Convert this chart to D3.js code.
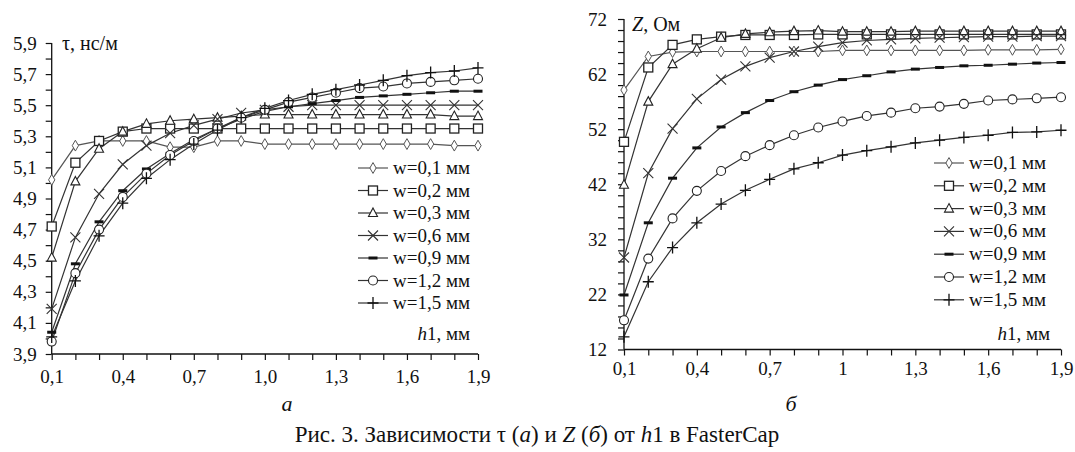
<!DOCTYPE html>
<html>
<head>
<meta charset="utf-8">
<script src="https://cdn.jsdelivr.net/npm/d3@7/dist/d3.min.js"></script>
<style>
  html, body { margin: 0; padding: 0; background: #fff; }
  svg { display: block; }
  svg text { font-family: "Liberation Serif", "Times New Roman", Times, "DejaVu Serif", serif !important; fill: #111; }
</style>
</head>
<body>
<svg id="fig" width="1075" height="452"></svg>
<script>
// h1, mm
const h1 = [0.1, 0.2, 0.3, 0.4, 0.5, 0.6, 0.7, 0.8, 0.9, 1.0, 1.1, 1.2, 1.3, 1.4, 1.5, 1.6, 1.7, 1.8, 1.9];

const seriesNames = ["w=0,1 мм", "w=0,2 мм", "w=0,3 мм", "w=0,6 мм", "w=0,9 мм", "w=1,2 мм", "w=1,5 мм"];
const markerTypes = ["diamond", "square", "triangle", "cross", "dash", "circle", "plus"];

// τ, ns/m
const tauW01 = [5.02, 5.24, 5.27, 5.27, 5.27, 5.23, 5.23, 5.27, 5.27, 5.25, 5.25, 5.25, 5.25, 5.25, 5.25, 5.25, 5.25, 5.24, 5.24];
const tauW02 = [4.72, 5.13, 5.27, 5.33, 5.35, 5.35, 5.35, 5.35, 5.35, 5.35, 5.35, 5.35, 5.35, 5.35, 5.35, 5.35, 5.35, 5.35, 5.35];
const tauW03 = [4.52, 5.01, 5.22, 5.33, 5.38, 5.40, 5.41, 5.42, 5.43, 5.44, 5.44, 5.44, 5.44, 5.44, 5.44, 5.44, 5.44, 5.43, 5.43];
const tauW06 = [4.19, 4.65, 4.93, 5.12, 5.24, 5.32, 5.37, 5.41, 5.45, 5.47, 5.49, 5.50, 5.50, 5.50, 5.50, 5.50, 5.50, 5.50, 5.50];
const tauW09 = [4.04, 4.48, 4.75, 4.95, 5.09, 5.19, 5.28, 5.35, 5.41, 5.46, 5.49, 5.51, 5.53, 5.55, 5.56, 5.57, 5.58, 5.59, 5.59];
const tauW12 = [3.98, 4.42, 4.70, 4.91, 5.06, 5.18, 5.27, 5.35, 5.42, 5.47, 5.52, 5.55, 5.58, 5.61, 5.62, 5.64, 5.65, 5.66, 5.67];
const tauW15 = [4.01, 4.37, 4.66, 4.87, 5.03, 5.15, 5.25, 5.34, 5.42, 5.48, 5.53, 5.57, 5.60, 5.63, 5.66, 5.69, 5.71, 5.72, 5.74];

// Z, Ohm
const zW01 = [59.1, 65.2, 66.0, 66.1, 66.1, 66.1, 66.1, 66.1, 66.1, 66.3, 66.3, 66.3, 66.3, 66.3, 66.3, 66.4, 66.4, 66.4, 66.5];
const zW02 = [49.7, 63.2, 67.3, 68.3, 68.8, 69.1, 69.1, 69.1, 69.2, 69.2, 69.2, 69.2, 69.2, 69.2, 69.2, 69.2, 69.2, 69.2, 69.2];
const zW03 = [41.9, 57.0, 63.8, 66.6, 68.6, 69.3, 69.6, 69.8, 69.9, 69.7, 69.7, 69.7, 69.8, 69.8, 69.8, 69.8, 69.8, 69.8, 69.8];
const zW06 = [28.7, 44.0, 52.1, 57.5, 61.0, 63.4, 65.0, 66.1, 67.0, 67.7, 68.1, 68.3, 68.5, 68.6, 68.7, 68.8, 68.8, 68.9, 68.9];
const zW09 = [21.9, 35.0, 43.1, 48.6, 52.4, 55.0, 57.2, 58.8, 60.0, 61.0, 61.7, 62.4, 62.9, 63.2, 63.5, 63.6, 63.8, 64.0, 64.1];
const zW12 = [17.3, 28.5, 35.8, 40.8, 44.4, 47.1, 49.1, 50.9, 52.3, 53.4, 54.4, 55.0, 55.8, 56.1, 56.6, 57.2, 57.4, 57.6, 57.8];
const zW15 = [14.3, 24.3, 30.5, 35.0, 38.4, 40.9, 42.9, 44.8, 45.9, 47.3, 48.1, 48.8, 49.5, 50.0, 50.5, 50.9, 51.4, 51.5, 51.8];

// axis ticks
const xTickValues = [0.1, 0.2, 0.3, 0.4, 0.5, 0.6, 0.7, 0.8, 0.9, 1.0, 1.1, 1.2, 1.3, 1.4, 1.5, 1.6, 1.7, 1.8, 1.9];
const xLabeledA = ["0,1", "0,4", "0,7", "1,0", "1,3", "1,6", "1,9"];
const xLabeledB = ["0,1", "0,4", "0,7", "1", "1,3", "1,6", "1,9"];
const tauTickValues = [3.9, 4.0, 4.1, 4.2, 4.3, 4.4, 4.5, 4.6, 4.7, 4.8, 4.9, 5.0, 5.1, 5.2, 5.3, 5.4, 5.5, 5.6, 5.7, 5.8, 5.9];
const tauLabels = ["3,9", "4,1", "4,3", "4,5", "4,7", "4,9", "5,1", "5,3", "5,5", "5,7", "5,9"];
const zTickValues = [12, 14, 16, 18, 20, 22, 24, 26, 28, 30, 32, 34, 36, 38, 40, 42, 44, 46, 48, 50, 52, 54, 56, 58, 60, 62, 64, 66, 68, 70, 72];
const zLabels = ["12", "22", "32", "42", "52", "62", "72"];

const tauSeries = [tauW01, tauW02, tauW03, tauW06, tauW09, tauW12, tauW15];
const zSeries = [zW01, zW02, zW03, zW06, zW09, zW12, zW15];

const svg = d3.select("#fig");

function drawMarker(g, type, x, y) {
  const stroke = "#222";
  switch (type) {
    case "diamond":
      g.append("path").attr("d", d3.symbol(d3.symbolDiamond, 34)())
        .attr("transform", `translate(${x},${y})`)
        .attr("fill", "#fff").attr("stroke", "#555").attr("stroke-width", 1);
      break;
    case "square":
      g.append("rect").attr("x", x - 4.5).attr("y", y - 4.5).attr("width", 9).attr("height", 9)
        .attr("fill", "#fff").attr("stroke", stroke).attr("stroke-width", 1.3);
      break;
    case "triangle":
      g.append("path").attr("d", `M${x},${y - 5}L${x + 4.5},${y + 3.5}L${x - 4.5},${y + 3.5}Z`)
        .attr("fill", "#fff").attr("stroke", stroke).attr("stroke-width", 1.1);
      break;
    case "cross":
      g.append("path").attr("d", `M${x - 5},${y - 5}L${x + 5},${y + 5}M${x - 5},${y + 5}L${x + 5},${y - 5}`)
        .attr("fill", "none").attr("stroke", "#333").attr("stroke-width", 1.1);
      break;
    case "dash":
      g.append("rect").attr("x", x - 4.5).attr("y", y - 1.5).attr("width", 9).attr("height", 3)
        .attr("fill", "#111");
      break;
    case "circle":
      g.append("circle").attr("cx", x).attr("cy", y).attr("r", 4.5)
        .attr("fill", "#fff").attr("stroke", stroke).attr("stroke-width", 1.1);
      break;
    case "plus":
      g.append("path").attr("d", `M${x - 5.5},${y}L${x + 5.5},${y}M${x},${y - 6}L${x},${y + 6}`)
        .attr("fill", "none").attr("stroke", "#111").attr("stroke-width", 1.3);
      break;
  }
}

function panel(opts) {
  const g = svg.append("g");
  const x = d3.scaleLinear().domain([0.1, 1.9]).range(opts.xRange);
  const y = d3.scaleLinear().domain(opts.yDomain).range(opts.yRange);

  // axes: ticks every step, labels on every few ticks
  const xLabelSet = new Map(opts.xLabels.map((l, i) => [i * 3, l]));
  const xAxis = d3.axisBottom(x).tickValues(xTickValues).tickSize(6).tickPadding(opts.xPad)
    .tickFormat((d, i) => xLabelSet.get(i) || "");
  const gx = g.append("g").attr("transform", `translate(0,${opts.yRange[0]})`).call(xAxis);

  const yLabelSet = new Map(opts.yLabels.map((l, i) => [i * opts.yEvery, l]));
  const yAxis = d3.axisLeft(y).tickValues(opts.yTicks).tickSize(6).tickPadding(opts.yPad)
    .tickFormat((d, i) => yLabelSet.get(i) || "");
  const gy = g.append("g").attr("transform", `translate(${opts.xRange[0]},0)`).call(yAxis);

  [gx, gy].forEach(a => {
    a.attr("font-family", null).attr("font-size", null);
    a.select(".domain").attr("stroke", "#111").attr("stroke-width", 1.3)
      .attr("d", a === gx ? `M${opts.xRange[0]},0H${opts.xRange[1]}` : `M0,${opts.yRange[0]}V${opts.yRange[1]}`);
    a.selectAll(".tick line").attr("stroke", "#111").attr("stroke-width", 1.2);
    a.selectAll(".tick text").attr("font-size", 19).attr("fill", "#111");
  });

  // curves
  const line = d3.line().x((d, i) => x(h1[i])).y(d => y(d));
  opts.series.forEach((s, k) => {
    g.append("path").datum(s).attr("d", line)
      .attr("fill", "none").attr("stroke", k === 0 ? "#555" : "#333").attr("stroke-width", 1.2);
  });
  opts.series.forEach((s, k) => {
    const mg = g.append("g");
    s.forEach((v, i) => drawMarker(mg, markerTypes[k], x(h1[i]), y(v)));
  });

  // legend
  const lg = g.append("g");
  seriesNames.forEach((name, k) => {
    const ly = opts.legendY + k * opts.legendStep;
    lg.append("line").attr("x1", opts.legendX).attr("x2", opts.legendX + 30)
      .attr("y1", ly).attr("y2", ly).attr("stroke", k === 0 ? "#555" : "#333").attr("stroke-width", 1.2);
    drawMarker(lg, markerTypes[k], opts.legendX + 15, ly);
    lg.append("text").attr("x", opts.legendX + 35).attr("y", ly + 6)
      .attr("font-size", 19).text(name);
  });

  // axis titles
  g.append("text").attr("x", opts.xTitleX).attr("y", opts.xTitleY).attr("text-anchor", "end")
    .attr("font-size", 19)
    .call(t => { t.append("tspan").attr("font-style", "italic").text("h"); t.append("tspan").text("1, мм"); });
  g.append("text").attr("x", opts.yTitleX).attr("y", opts.yTitleY).attr("font-size", 20)
    .call(opts.yTitle);

  // panel letter
  g.append("text").attr("x", opts.letterX).attr("y", 411).attr("text-anchor", "middle")
    .attr("font-size", 22).attr("font-style", "italic").text(opts.letter);
}

panel({
  xRange: [51.7, 478], yDomain: [3.9, 5.9], yRange: [354, 43],
  xLabels: xLabeledA, yTicks: tauTickValues, yLabels: tauLabels, yEvery: 2,
  xPad: 10, yPad: 9,
  series: tauSeries,
  legendX: 358, legendY: 168, legendStep: 22.5,
  xTitleX: 470, xTitleY: 340,
  yTitleX: 62, yTitleY: 50,
  yTitle: t => t.text("τ, нс/м"),
  letter: "а", letterX: 287
});

panel({
  xRange: [624, 1061], yDomain: [12, 72], yRange: [349.5, 19],
  xLabels: xLabeledB, yTicks: zTickValues, yLabels: zLabels, yEvery: 5,
  xPad: 6, yPad: 11,
  series: zSeries,
  legendX: 934, legendY: 163, legendStep: 22.8,
  xTitleX: 1050, xTitleY: 340,
  yTitleX: 632, yTitleY: 31,
  yTitle: t => { t.append("tspan").attr("font-style", "italic").text("Z"); t.append("tspan").text(", Ом"); },
  letter: "б", letterX: 791
});

// caption
svg.append("text").attr("x", 537).attr("y", 442).attr("text-anchor", "middle").attr("font-size", 23)
  .call(t => {
    t.append("tspan").text("Рис. 3. Зависимости τ (");
    t.append("tspan").attr("font-style", "italic").text("а");
    t.append("tspan").text(") и ");
    t.append("tspan").attr("font-style", "italic").text("Z");
    t.append("tspan").text(" (");
    t.append("tspan").attr("font-style", "italic").text("б");
    t.append("tspan").text(") от ");
    t.append("tspan").attr("font-style", "italic").text("h");
    t.append("tspan").text("1 в FasterCap");
  });
</script>
</body>
</html>
